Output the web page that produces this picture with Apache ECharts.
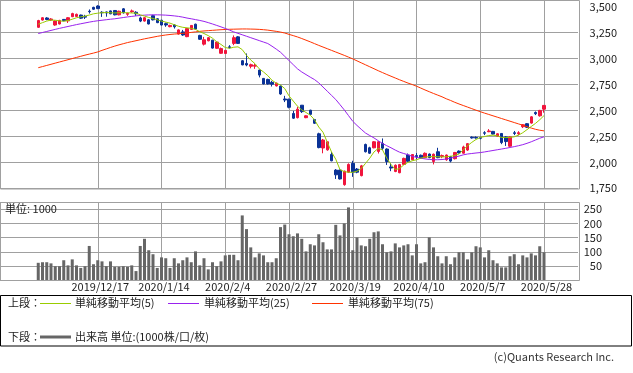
<!DOCTYPE html>
<html><head><meta charset="utf-8">
<script src="https://cdn.jsdelivr.net/npm/echarts@6/dist/echarts.min.js"></script>
<style>html,body{margin:0;padding:0;background:#fff}#c{width:633px;height:373px}</style>
</head><body><div id="c"></div><script>
const dates = ['2019/11/27','2019/11/28','2019/11/29','2019/12/2','2019/12/3','2019/12/4','2019/12/5','2019/12/6','2019/12/9','2019/12/10','2019/12/11','2019/12/12','2019/12/13','2019/12/16','2019/12/17','2019/12/18','2019/12/19','2019/12/20','2019/12/23','2019/12/24','2019/12/25','2019/12/26','2019/12/27','2019/12/30','2020/1/6','2020/1/7','2020/1/8','2020/1/9','2020/1/10','2020/1/14','2020/1/15','2020/1/16','2020/1/17','2020/1/20','2020/1/21','2020/1/22','2020/1/23','2020/1/24','2020/1/27','2020/1/28','2020/1/29','2020/1/30','2020/1/31','2020/2/3','2020/2/4','2020/2/5','2020/2/6','2020/2/7','2020/2/10','2020/2/12','2020/2/13','2020/2/14','2020/2/17','2020/2/18','2020/2/19','2020/2/20','2020/2/21','2020/2/25','2020/2/26','2020/2/27','2020/2/28','2020/3/2','2020/3/3','2020/3/4','2020/3/5','2020/3/6','2020/3/9','2020/3/10','2020/3/11','2020/3/12','2020/3/13','2020/3/16','2020/3/17','2020/3/18','2020/3/19','2020/3/23','2020/3/24','2020/3/25','2020/3/26','2020/3/27','2020/3/30','2020/3/31','2020/4/1','2020/4/2','2020/4/3','2020/4/6','2020/4/7','2020/4/8','2020/4/9','2020/4/10','2020/4/13','2020/4/14','2020/4/15','2020/4/16','2020/4/17','2020/4/20','2020/4/21','2020/4/22','2020/4/23','2020/4/24','2020/4/27','2020/4/28','2020/4/30','2020/5/1','2020/5/7','2020/5/8','2020/5/11','2020/5/12','2020/5/13','2020/5/14','2020/5/15','2020/5/18','2020/5/19','2020/5/20','2020/5/21','2020/5/22','2020/5/25','2020/5/26','2020/5/27','2020/5/28'];

const opens = [3300,3370,3390,3370,3322,3332,3376,3362,3402,3405,3418,3405,3455,3492,3505,3445,3448,3458,3462,3420,3478,3425,3450,3445,
3390,3360,3372,3412,3382,3368,3335,3306,3322,3235,3256,3210,3280,3330,3222,3138,3170,3176,3098,3050,3048,3112,3145,3208,
2978,2952,2925,2926,2888,2808,2798,2770,2736,2734,2610,2608,2470,2430,2550,2430,2502,2412,2275,2138,2120,2076,1925,1925,1785,1905,1990,
1935,1872,2172,2140,2140,2105,2182,2128,1956,1912,1900,1980,2070,2025,2065,2068,2045,2080,2008,2102,2055,2025,2055,2035,2108,2088,2118,2242,
2240,2238,2285,2295,2298,2252,2278,2245,2155,2285,2275,2343,2372,2378,2480,2448,2512];
const highs = [3372,3398,3398,3388,3366,3372,3380,3398,3440,3432,3422,3420,3472,3498,3512,3455,3452,3462,3466,3460,3485,3442,3471,3455,
3402,3398,3380,3420,3388,3372,3345,3325,3330,3280,3275,3292,3322,3335,3228,3208,3205,3180,3162,3105,3082,3128,3222,3215,
2985,3048,2950,2950,2892,2812,2805,2785,2768,2740,2640,2612,2495,2535,2552,2452,2506,2418,2285,2225,2200,2100,1935,1930,1920,1990,2015,
1945,1975,2180,2150,2205,2205,2230,2135,1990,1980,1985,2045,2085,2080,2090,2075,2095,2085,2085,2140,2075,2075,2062,2100,2115,2160,2185,2250,
2250,2248,2300,2320,2302,2280,2282,2252,2250,2302,2300,2368,2378,2445,2490,2505,2552];
const lows = [3295,3365,3368,3362,3315,3328,3358,3342,3398,3400,3380,3380,3432,3468,3475,3400,3402,3426,3415,3415,3432,3410,3440,3410,
3350,3355,3328,3366,3340,3318,3305,3300,3288,3230,3218,3205,3275,3280,3180,3125,3165,3095,3092,3045,3044,3096,3128,3140,
2935,2925,2905,2900,2818,2750,2748,2730,2730,2650,2580,2520,2418,2423,2475,2425,2458,2370,2135,2087,2112,2010,1840,1835,1775,1900,1860,
1895,1865,2095,2080,2135,2085,2120,1975,1915,1905,1895,1975,2005,2020,2030,2035,2040,2040,1980,2040,2040,2015,2000,2028,2085,2085,2110,2228,
2228,2222,2262,2290,2268,2245,2175,2158,2150,2262,2260,2330,2330,2372,2455,2440,2478];
const closes = [3365,3392,3375,3380,3360,3366,3364,3392,3432,3425,3388,3398,3450,3474,3480,3440,3438,3430,3420,3455,3440,3435,3458,3430,
3360,3392,3332,3372,3345,3322,3322,3318,3305,3275,3226,3288,3318,3284,3185,3180,3200,3100,3158,3095,3078,3105,3200,3145,
2938,2937,2940,2933,2840,2755,2755,2752,2762,2658,2600,2530,2425,2512,2488,2448,2462,2376,2142,2215,2198,2015,1880,1840,1915,1980,1905,
1905,1966,2102,2088,2198,2198,2136,2008,1945,1972,1978,2038,2010,2075,2055,2040,2087,2045,2078,2045,2065,2070,2012,2095,2090,2148,2180,2235,
2234,2232,2280,2302,2272,2275,2190,2200,2245,2278,2285,2362,2338,2438,2468,2500,2548];
const volumes = [62,64,64,60,50,50,71,53,74,53,44,50,121,57,71,67,50,67,48,48,50,48,53,33,
121,146,106,92,44,81,78,44,78,60,71,81,64,102,53,78,39,64,50,67,88,90,90,71,
228,180,116,81,95,88,64,64,78,187,196,162,155,165,146,102,127,123,162,134,109,109,195,158,200,256,106,
151,123,120,146,169,172,127,99,102,130,116,123,127,88,127,60,64,151,116,85,60,85,57,81,99,99,74,99,
120,116,81,106,71,60,46,46,85,92,57,88,81,95,88,120,99];
const ma5 = [3330,3345,3360,3370,3368,3362,3358,3365,3378,3392,3400,3408,3418,3430,3436,3440,3442,3440,3438,3440,3441,3440,3438,3436,
3420,3408,3395,3385,3372,3360,3350,3340,3325,3310,3300,3295,3290,3280,3258,3240,3220,3195,3160,3135,3105,3098,3108,3112,
3085,3030,2985,2950,2900,2870,2835,2790,2762,2745,2710,2640,2590,2540,2505,2480,2454,2410,2340,2290,2195,2100,2030,1930,1910,1905,1904,
1915,1940,1990,2040,2100,2134,2120,2040,1980,1930,1940,1975,2000,2015,2025,2040,2050,2055,2055,2054,2052,2054,2058,2065,2080,2120,2160,2192,
2220,2240,2248,2258,2262,2255,2240,2238,2240,2246,2262,2285,2315,2345,2375,2410,2450];
const ma25 = [3240,3250,3260,3270,3280,3290,3299,3308,3317,3326,3334,3342,3350,3357,3363,3368,3373,3378,3382,3388,3394,3400,3405,3410,
3414,3417,3419,3420,3420,3419,3417,3414,3410,3405,3398,3389,3382,3374,3366,3357,3345,3332,3318,3304,3289,3273,3256,3242,
3228,3214,3200,3186,3172,3158,3144,3118,3090,3060,3020,2980,2940,2900,2870,2845,2820,2797,2765,2725,2685,2645,2605,2555,2505,2450,2395,
2355,2318,2282,2258,2235,2208,2182,2160,2140,2118,2098,2085,2073,2058,2048,2040,2033,2028,2025,2025,2027,2032,2040,2050,2060,2072,2080,2085,
2090,2094,2100,2107,2114,2121,2128,2135,2143,2151,2160,2170,2183,2198,2215,2232,2246];
const ma75 = [2911,2922,2933,2944,2955,2966,2977,2988,2999,3010,3021,3032,3042,3052,3063,3078,3092,3106,3119,3131,3142,3153,3162,3171,
3180,3189,3197,3205,3213,3220,3226,3231,3235,3238,3242,3246,3251,3256,3261,3265,3268,3271,3274,3277,3279,3281,3282,3283,
3284,3284,3283,3282,3280,3277,3273,3267,3261,3254,3245,3232,3220,3207,3192,3176,3160,3143,3126,3110,3094,3078,3062,3046,3030,3013,2996,
2977,2958,2939,2920,2901,2882,2864,2846,2829,2812,2795,2779,2763,2749,2733,2715,2697,2680,2663,2647,2631,2612,2596,2578,2562,2547,2532,2517,
2502,2488,2474,2461,2448,2435,2422,2409,2396,2383,2370,2357,2343,2330,2318,2309,2303];
const tickDates = ['2019/12/17','2020/1/14','2020/2/4','2020/2/27','2020/3/19','2020/4/10','2020/5/7','2020/5/28'];

const PAD_L = 9, PAD_R = 8;
const cats = [];
for (let k = 0; k < PAD_L; k++) cats.push('<' + k);
dates.forEach(d => cats.push(d));
for (let k = 0; k < PAD_R; k++) cats.push('>' + k);
const at = i => i + PAD_L;

const candle = dates.map((d, i) => [at(i), opens[i], closes[i], lows[i], highs[i]]);
const line = arr => arr.map((v, i) => [at(i), v]);
const vol = volumes.map((v, i) => [at(i), v]);

const FONT = '"Noto Sans CJK JP", "DejaVu Sans", sans-serif';
const GRID = '#a0a0a0';
const RED = '#f0143c', BLUE = '#0a3296';
const isTick = (idx, val) => tickDates.includes(val);

const chart = echarts.init(document.getElementById('c'), null, {renderer: 'canvas'});
const txt = (text, x, y, extra) => Object.assign({type: 'text', z: 100, style: {text: text, x: x, y: y, fill: '#222', font: '11px ' + FONT, align: 'left', verticalAlign: 'middle'}}, extra || {});
const ln = (x1, x2, y, color, w) => ({type: 'line', z: 100, shape: {x1: x1, y1: y, x2: x2, y2: y}, style: {stroke: color, lineWidth: w}});

chart.setOption({
  animation: false,
  backgroundColor: '#fff',
  textStyle: {fontFamily: FONT},
  grid: [
    {left: 0, top: 0.3, width: 578, height: 188, show: false, outerBoundsMode: 'none', containLabel: false},
    {left: 0, top: 202, width: 578, height: 78.5, show: false, outerBoundsMode: 'none', containLabel: false}
  ],
  xAxis: [
    {type: 'category', gridIndex: 0, data: cats, boundaryGap: false,
     axisLine: {show: false}, axisTick: {show: false}, axisLabel: {show: false},
     splitLine: {show: true, interval: isTick, lineStyle: {color: GRID, width: 1}}},
    {type: 'category', gridIndex: 1, data: cats, boundaryGap: false,
     axisLine: {show: false}, axisTick: {show: false},
     axisLabel: {show: true, interval: isTick, margin: 1, padding: [0, 0, 0, 5], fontSize: 11, color: '#222', fontFamily: FONT},
     splitLine: {show: true, interval: isTick, lineStyle: {color: GRID, width: 1}}}
  ],
  yAxis: [
    {type: 'value', gridIndex: 0, position: 'right', min: 1750, max: 3560, interval: 250, scale: false,
     axisLine: {show: false}, axisTick: {show: false},
     axisLabel: {align: 'right', margin: 39, fontSize: 11, color: '#222', fontFamily: FONT,
       formatter: v => (v % 250 === 0 ? v.toLocaleString('en-US') : '')},
     splitLine: {show: true, lineStyle: {color: [GRID, GRID, GRID, GRID, GRID, GRID, GRID, 'rgba(0,0,0,0)', GRID], width: 1}}},
    {type: 'value', gridIndex: 1, position: 'right', min: 0, max: 275, interval: 50,
     axisLine: {show: false}, axisTick: {show: false},
     axisLabel: {align: 'right', margin: 24, fontSize: 11, color: '#222', fontFamily: FONT,
       formatter: v => ((v > 0 && v % 50 === 0) ? String(v) : '')},
     splitLine: {show: true, lineStyle: {color: GRID, width: 1}}}
  ],
  series: [
    {type: 'candlestick', xAxisIndex: 0, yAxisIndex: 0, data: candle, encode: {x: 0, y: [1, 2, 3, 4]},
     barWidth: 3, silent: true,
     itemStyle: {color: RED, color0: BLUE, borderColor: RED, borderColor0: BLUE, borderColorDoji: BLUE, borderWidth: 1}},
    {type: 'line', xAxisIndex: 0, yAxisIndex: 0, data: line(ma75), showSymbol: false, silent: true, lineStyle: {color: '#ff3300', width: 1}, z: 3},
    {type: 'line', xAxisIndex: 0, yAxisIndex: 0, data: line(ma25), showSymbol: false, silent: true, lineStyle: {color: '#9922ee', width: 1}, z: 3},
    {type: 'line', xAxisIndex: 0, yAxisIndex: 0, data: line(ma5), showSymbol: false, silent: true, lineStyle: {color: '#99cc00', width: 1}, z: 3},
    {type: 'bar', xAxisIndex: 1, yAxisIndex: 1, data: vol, barWidth: 3, silent: true, itemStyle: {color: '#666666'}}
  ],
  graphic: [
    {type: 'rect', z: 90, shape: {x: 0.5, y: 0.5, width: 579, height: 188.5}, style: {fill: 'none', stroke: GRID, lineWidth: 1}},
    {type: 'rect', z: 90, shape: {x: 0.5, y: 202.5, width: 579, height: 78}, style: {fill: 'none', stroke: GRID, lineWidth: 1}},
    txt('単位: 1000', 5, 209),
    {type: 'rect', z: 90, shape: {x: 0.5, y: 295.5, width: 631, height: 50.5}, style: {fill: 'none', stroke: '#000', lineWidth: 1}},
    txt('上段：', 8, 303),
    ln(40, 71, 303.5, '#99cc00', 1),
    txt('単純移動平均(5)', 75, 303),
    ln(168, 199, 303.5, '#9922ee', 1),
    txt('単純移動平均(25)', 204, 303),
    ln(312, 343, 303.5, '#ff3300', 1),
    txt('単純移動平均(75)', 348, 303),
    txt('下段：', 8, 337),
    ln(40, 71, 337, '#666666', 3),
    txt('出来高 単位:(1000株/口/枚)', 75, 337),
    txt('(c)Quants Research Inc.', 614, 357, {style: {text: '(c)Quants Research Inc.', x: 614, y: 357, fill: '#333', font: '11px ' + FONT, align: 'right', verticalAlign: 'middle'}})
  ]
});
</script></body></html>
